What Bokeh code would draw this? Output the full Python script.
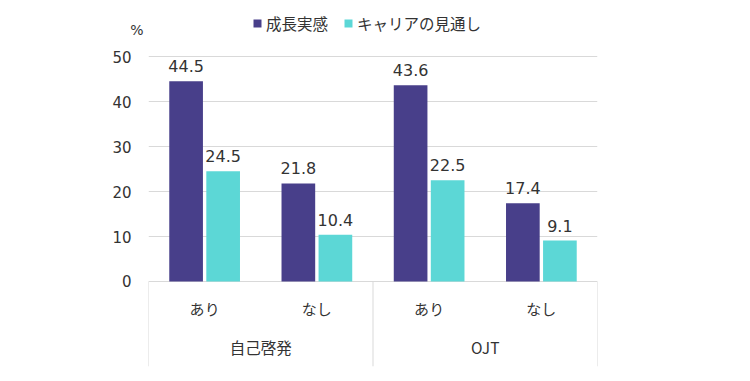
from bokeh.plotting import figure
from bokeh.models import FactorRange, Range1d, FixedTicker, ColumnDataSource, LinearAxis
from bokeh.transform import dodge
from bokeh.core.properties import value
from bokeh.embed import file_html
from bokeh.resources import INLINE

groups = ["自己啓発", "OJT"]
subs = ["あり", "なし"]
series_names = ["成長実感", "キャリアの見通し"]
growth = [44.5, 21.8, 43.6, 17.4]
career = [24.5, 10.4, 22.5, 9.1]
y_ticks = [0, 10, 20, 30, 40, 50]
unit = "%"

DARK = "#483F8A"
CYAN = "#5CD7D6"
GRID = "#d9d9d9"
TXT = "#333333"
NUM_FONT = "DejaVu Sans"
JP_FONT = "Noto Sans CJK JP"

factors = [(g, s) for g in groups for s in subs]
src = ColumnDataSource(dict(
    x=factors, growth=growth, career=career,
    growth_t=[f"{v:.1f}" for v in growth],
    career_t=[f"{v:.1f}" for v in career],
))

y0, y1 = -18.89, 59.78
unit_pos = 55.9
p = figure(
    x_range=FactorRange(*factors, range_padding=0, group_padding=0,
                        factor_padding=0, subgroup_padding=0),
    y_range=Range1d(y0, y1),
    width=742, height=373,
    min_border_left=148, min_border_right=145, min_border_top=12, min_border_bottom=7,
    output_backend="svg", toolbar_location=None,
)
p.outline_line_color = None
p.background_fill_color = "white"

bw = 0.30
off = 0.165
p.vbar(x=dodge("x", -off, range=p.x_range), top="growth", width=bw, source=src,
       fill_color=DARK, line_color=None, legend_label=series_names[0])
p.vbar(x=dodge("x", off, range=p.x_range), top="career", width=bw, source=src,
       fill_color=CYAN, line_color=None, legend_label=series_names[1])

for col, o in (("growth", -off), ("career", off)):
    p.text(x=dodge("x", o, range=p.x_range), y=col, text=col + "_t", source=src,
           text_align="center", text_baseline="middle", y_offset=-15,
           text_font=value(NUM_FONT), text_font_size="16px", text_color=TXT)

# category labels
p.text(x=factors, y=[0] * len(factors), text=[s for g, s in factors],
       y_offset=27, text_align="center", text_baseline="middle",
       text_font=value(JP_FONT), text_font_size="15px", text_color=TXT)
p.text(x=groups, y=[0] * len(groups), text=groups,
       y_offset=66, text_align="center", text_baseline="middle",
       text_font=value(JP_FONT), text_font_size="15.5px", text_color=TXT)

# separators
bounds = [i * len(subs) for i in range(len(groups) + 1)]
p.segment(x0=bounds, y0=[0] * len(bounds), x1=bounds, y1=[y0] * len(bounds),
          line_color=GRID, line_width=1)

p.xaxis.visible = False
p.xgrid.visible = False
p.ygrid.grid_line_color = GRID
p.ygrid.ticker = FixedTicker(ticks=y_ticks)
p.yaxis.ticker = FixedTicker(ticks=y_ticks)
p.yaxis.axis_line_color = None
p.yaxis.major_tick_line_color = None
p.yaxis.minor_tick_line_color = None
p.yaxis.major_tick_out = 0
p.yaxis.major_label_standoff = 17
p.yaxis.major_label_text_font = NUM_FONT
p.yaxis.major_label_text_font_size = "15px"
p.yaxis.major_label_text_color = TXT

# unit label: a tickless axis carrying a single overridden label near the top
unit_axis = LinearAxis(
    ticker=FixedTicker(ticks=[unit_pos]),
    major_label_overrides={unit_pos: unit},
    major_label_standoff=-34,
    major_label_text_font=NUM_FONT, major_label_text_font_size="14px",
    major_label_text_color=TXT,
    axis_line_color=None, major_tick_line_color=None, minor_tick_line_color=None,
    major_tick_out=0, minor_tick_out=0,
)
p.add_layout(unit_axis, "left")

lg = p.legend[0]
lg.location = (104, 332)
lg.orientation = "horizontal"
lg.border_line_color = None
lg.background_fill_alpha = 0
lg.margin = 0
lg.padding = 0
lg.spacing = 15
lg.glyph_width = 10
lg.glyph_height = 10
lg.label_height = 20
lg.label_standoff = 4
lg.label_text_font = JP_FONT
lg.label_text_font_size = "15.5px"
lg.label_text_color = TXT

open("out.html", "w").write(file_html(p, INLINE))
